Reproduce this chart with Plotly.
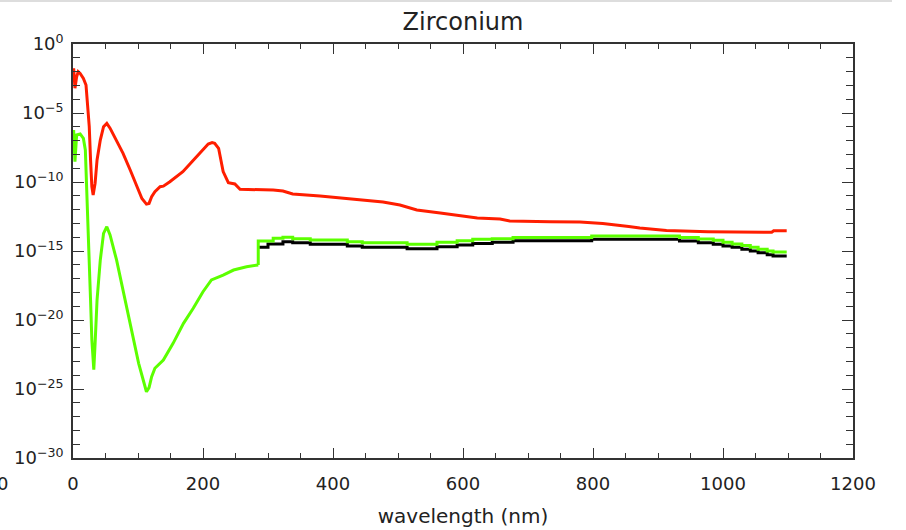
import numpy as np
import plotly.graph_objects as go

# ---- data: wavelength (nm) and log10 of the quantity ----
# red curve
red_wl = [1, 3, 5.6, 8, 11, 16, 20, 22, 25, 27, 29, 31, 34, 37, 42, 47, 52, 57, 67, 77,
          88, 98, 106, 113, 117, 121, 126, 134, 139, 149, 154, 162, 169, 183, 195, 208,
          214, 218, 224, 231, 239, 249, 257, 308, 323, 338, 380, 426, 477, 503, 529, 565,
          585, 622, 657, 672, 734, 780, 815, 837, 855, 872, 890, 913, 977, 1075, 1078, 1098]
red_log = [-1.76, -3.2, -2.37, -2.0, -2.13, -2.49, -2.97, -4.06, -5.99, -8.4, -10.34,
           -10.94, -10.1, -8.4, -6.96, -5.99, -5.75, -6.1, -6.96, -7.92, -9.13, -10.34,
           -11.2, -11.6, -11.55, -11.07, -10.7, -10.34, -10.3, -9.98, -9.8, -9.49, -9.25,
           -8.53, -7.92, -7.25, -7.15, -7.2, -7.56, -9.25, -10.05, -10.14, -10.53, -10.58,
           -10.65, -10.87, -11.01, -11.23, -11.45, -11.67, -12.03, -12.25, -12.39, -12.61,
           -12.68, -12.83, -12.88, -12.9, -13.0, -13.1, -13.22, -13.33, -13.43, -13.52,
           -13.6, -13.64, -13.53, -13.53]

# green curve, smooth part below 285 nm
green_wl = [1, 3, 5.6, 11, 16, 19, 22, 25, 27, 29, 31, 32, 34, 37, 42, 47, 52, 57, 67, 77,
            88, 101, 113, 117, 121, 126, 139, 152, 154, 170, 185, 200, 213, 231, 247, 267, 285]
green_log = [-6.23, -8.53, -6.59, -6.52, -6.84, -7.68, -11.79, -15.17, -18.55, -21.45,
             -23.38, -23.6, -21.69, -18.55, -15.65, -13.72, -13.24, -13.84, -15.65, -17.83,
             -20.24, -23.14, -25.2, -24.9, -24.11, -23.5, -22.9, -21.93, -21.69, -20.24,
             -19.15, -17.95, -17.1, -16.74, -16.38, -16.14, -16.01]

# binned (stepped) part above 285 nm: left bin edges and levels
step_edges = [285, 300, 308, 323, 338, 365, 422, 445, 514, 560, 591, 615, 645, 677, 734,
              798, 933, 962, 985, 1000, 1014, 1029, 1042, 1054, 1068, 1077, 1098]
green_step_log = [-14.28, -14.28, -14.08, -14.01, -14.11, -14.2, -14.33, -14.4, -14.51,
                  -14.37, -14.25, -14.15, -14.11, -14.03, -14.03, -13.91, -14.03, -14.13,
                  -14.23, -14.37, -14.49, -14.61, -14.73, -14.88, -15.0, -15.07, -15.07]
black_step_log = [-14.73, -14.49, -14.49, -14.33, -14.4, -14.51, -14.64, -14.73, -14.83,
                  -14.69, -14.57, -14.45, -14.37, -14.25, -14.25, -14.15, -14.28, -14.4,
                  -14.51, -14.64, -14.73, -14.88, -15.0, -15.12, -15.27, -15.36, -15.36]

y_tick_exp = [0, -5, -10, -15, -20, -25, -30]
x_ticks = [0, 200, 400, 600, 800, 1000, 1200]

RED = "#ff1e00"
GREEN = "#5cff00"
BLACK = "#000000"
AXIS = "#333333"
TEXT = "#222222"
FONT = "DejaVu Sans"
LW = 3.0


def pw(v):
    return [10.0 ** e for e in v]


fig = go.Figure()

fig.add_trace(go.Scatter(x=step_edges, y=pw(black_step_log), mode="lines",
                         line=dict(color=BLACK, width=LW, shape="hv")))
fig.add_trace(go.Scatter(x=green_wl, y=pw(green_log), mode="lines",
                         line=dict(color=GREEN, width=LW)))
fig.add_trace(go.Scatter(x=[green_wl[-1]] + step_edges,
                         y=pw([green_log[-1]] + green_step_log), mode="lines",
                         line=dict(color=GREEN, width=LW, shape="hv")))
fig.add_trace(go.Scatter(x=red_wl, y=pw(red_log), mode="lines",
                         line=dict(color=RED, width=LW)))

ML, MR, MT, MB = 73, 53, 44, 72
W, H = 906, 530
PW, PH = W - ML - MR, H - MT - MB

fig.update_layout(
    width=W, height=H,
    margin=dict(l=ML, r=MR, t=MT, b=MB, pad=0, autoexpand=False),
    paper_bgcolor="white", plot_bgcolor="white",
    showlegend=False,
    font=dict(family=FONT, color=TEXT, size=18),
    title=dict(text="Zirconium", x=0.5, xref="paper", xanchor="center",
               y=1 - 22 / H, yref="container", yanchor="middle",
               font=dict(family=FONT, size=24, color=TEXT)),
    xaxis=dict(
        range=[0, 1200], tickmode="array", tickvals=x_ticks,
        ticktext=[str(v) for v in x_ticks], automargin=False,
        showgrid=False, zeroline=False, showline=True, linecolor=AXIS, linewidth=1.6,
        mirror="ticks", ticks="inside", ticklen=10, tickwidth=1.4, tickcolor=AXIS,
        minor=dict(tickmode="linear", tick0=0, dtick=50, ticks="inside", ticklen=5,
                   tickwidth=1.4, tickcolor=AXIS, showgrid=False),
        ticklabelstandoff=9,
        tickfont=dict(family=FONT, size=18, color=TEXT),
        title=dict(text="wavelength (nm)", standoff=16,
                   font=dict(family=FONT, size=20, color=TEXT)),
    ),
    yaxis=dict(
        type="log", range=[-30, 0], tickmode="array", automargin=False,
        tickvals=[10.0 ** e for e in y_tick_exp],
        ticktext=["10<sup>%s</sup>" % (str(e).replace("-", "\u2212")) for e in y_tick_exp],
        showgrid=False, zeroline=False, showline=True, linecolor=AXIS, linewidth=1.6,
        mirror="ticks", ticks="inside", ticklen=11, tickwidth=1.4, tickcolor=AXIS,
        minor=dict(tickmode="linear", tick0=0, dtick=1, ticks="inside", ticklen=7,
                   tickwidth=1.4, tickcolor=AXIS, showgrid=False),
        ticklabelstandoff=4,
        tickfont=dict(family=FONT, size=18, color=TEXT),
    ),
)

# partially visible label at the far left edge and the thin frame line at the top
fig.add_annotation(text="0", xref="paper", yref="paper",
                   x=(2 - ML) / PW, y=(H - MB - 483) / PH, xanchor="center", yanchor="middle",
                   showarrow=False, font=dict(family=FONT, size=18, color=TEXT))
fig.add_shape(type="line", xref="paper", yref="paper",
              x0=-ML / PW, x1=(892 - ML) / PW, y0=(H - MB - 1) / PH, y1=(H - MB - 1) / PH,
              line=dict(color="#dddddd", width=2))

fig.write_html("out.html", config={"displayModeBar": False})
